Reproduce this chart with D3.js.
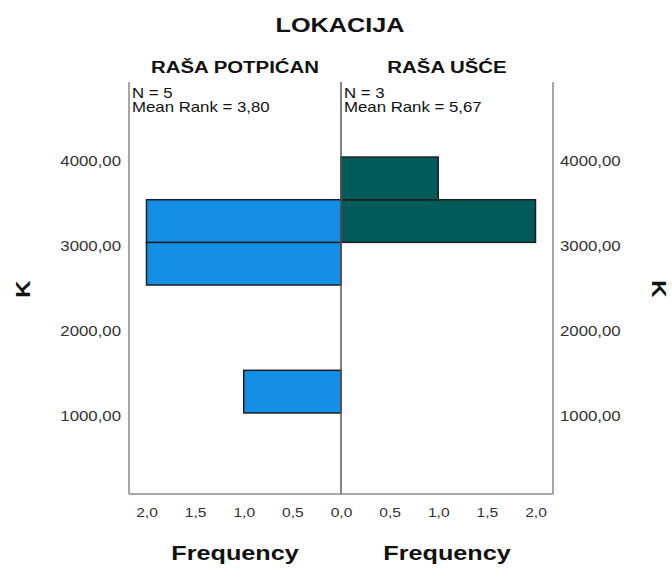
<!DOCTYPE html>
<html>
<head>
<meta charset="utf-8">
<script src="https://cdn.jsdelivr.net/npm/d3@7"></script>
<style>
  body { margin: 0; background: #fff; }
  svg { display: block; font-family: Arial, "Liberation Sans", sans-serif; }
</style>
</head>
<body>
<svg width="672" height="568"></svg>
<script>
// bins of K (lower edge), width 500
const binStart = [1000, 1500, 2000, 2500, 3000, 3500];
const binWidth = 500;
const countsLeft = [1, 0, 0, 2, 2, 0];   // RAŠA POTPIĆAN
const countsRight = [0, 0, 0, 0, 2, 1];  // RAŠA UŠĆE
const groups = ["RAŠA POTPIĆAN", "RAŠA UŠĆE"];
const groupN = [5, 3];
const meanRank = [3.80, 5.67];
const yTicks = [1000, 2000, 3000, 4000];
const xTicks = [0, 0.5, 1, 1.5, 2];

const svg = d3.select("svg");
const SX = "scale(1.2,1)";

const loc = d3.formatLocale({decimal: ",", thousands: ".", grouping: [3], currency: ["", ""]});
const fmtY = loc.format(".2f"), fmtX = loc.format(".1f");

const pLeft = 129, pMid = 341, pRight = 553, pTop = 82, pBottom = 494;

const y = d3.scaleLinear().domain([50, 4880]).range([pBottom, pTop]);
const xL = d3.scaleLinear().domain([0, 2.18]).range([pMid, pLeft]);
const xR = d3.scaleLinear().domain([0, 2.18]).range([pMid, pRight]);

// bars
const rows = binStart.map((b, i) => ({b, l: countsLeft[i], r: countsRight[i]}));

svg.append("g").selectAll("rect")
  .data(rows.filter(d => d.l > 0))
  .enter().append("rect")
    .attr("x", d => xL(d.l))
    .attr("width", d => xL(0) - xL(d.l))
    .attr("y", d => y(d.b + binWidth))
    .attr("height", d => y(d.b) - y(d.b + binWidth))
    .attr("fill", "#1390e6")
    .attr("stroke", "#1e1e1e")
    .attr("stroke-width", 1.5);

svg.append("g").selectAll("rect")
  .data(rows.filter(d => d.r > 0))
  .enter().append("rect")
    .attr("x", xR(0))
    .attr("width", d => xR(d.r) - xR(0))
    .attr("y", d => y(d.b + binWidth))
    .attr("height", d => y(d.b) - y(d.b + binWidth))
    .attr("fill", "#025b5a")
    .attr("stroke", "#1e1e1e")
    .attr("stroke-width", 1.5);

// panel frame
const frame = svg.append("g").attr("fill", "none").attr("stroke-width", 1.5);
frame.append("line").attr("x1", pLeft).attr("x2", pLeft).attr("y1", pTop).attr("y2", pBottom).attr("stroke", "#8a8a8a");
frame.append("line").attr("x1", pRight).attr("x2", pRight).attr("y1", pTop).attr("y2", pBottom).attr("stroke", "#8a8a8a");
frame.append("line").attr("x1", pMid).attr("x2", pMid).attr("y1", pTop).attr("y2", pBottom).attr("stroke", "#5a5a5a");
frame.append("line").attr("x1", pLeft).attr("x2", pRight).attr("y1", pBottom).attr("y2", pBottom).attr("stroke", "#8a8a8a");

// axes
const styleAxis = (g, tf) => {
  g.select(".domain").remove();
  g.selectAll("text")
    .attr("x", 0).attr("y", 0).attr("dy", null)
    .attr("fill", "#333")
    .attr("transform", tf + " " + SX);
};

svg.append("g").attr("transform", `translate(${pLeft},0)`)
  .call(d3.axisLeft(y).tickValues(yTicks).tickSize(0).tickFormat(fmtY))
  .call(g => styleAxis(g, "translate(-8,8)"))
  .selectAll("text").attr("font-size", 14);

svg.append("g").attr("transform", `translate(${pRight},0)`)
  .call(d3.axisRight(y).tickValues(yTicks).tickSize(0).tickFormat(fmtY))
  .call(g => styleAxis(g, "translate(7,8)"))
  .selectAll("text").attr("font-size", 14);

svg.append("g").attr("transform", `translate(0,${pBottom})`)
  .call(d3.axisBottom(xL).tickValues(xTicks).tickSize(0).tickFormat(fmtX))
  .call(g => styleAxis(g, "translate(0,23)"))
  .selectAll("text").attr("font-size", 13);

// shared 0,0 is drawn once, by the left axis
svg.append("g").attr("transform", `translate(0,${pBottom})`)
  .call(d3.axisBottom(xR).tickValues(xTicks.filter(v => v > 0)).tickSize(0).tickFormat(fmtX))
  .call(g => styleAxis(g, "translate(0,23)"))
  .selectAll("text").attr("font-size", 13);

// texts
const label = (txt, x, yy, size, weight, extra) => svg.append("text")
  .attr("transform", `translate(${x},${yy}) ${extra || ""} ${SX}`)
  .attr("text-anchor", "middle")
  .attr("font-size", size)
  .attr("font-weight", weight)
  .attr("fill", "#111")
  .text(txt);

label("LOKACIJA", 340, 32, 21, "bold");
label(groups[0], (pLeft + pMid) / 2, 73, 17, "bold");
label(groups[1], (pMid + pRight) / 2, 73, 17, "bold");
label("Frequency", (pLeft + pMid) / 2, 560, 21, "bold");
label("Frequency", (pMid + pRight) / 2, 560, 21, "bold");
label("K", 30, 289, 20, "bold", "rotate(-90)");
label("K", 652, 289, 20, "bold", "rotate(90)");

[pLeft, pMid].forEach((x0, i) => {
  const t = svg.append("g").attr("font-size", 14).attr("fill", "#111");
  t.append("text").attr("transform", `translate(${x0 + 3},98) ${SX}`).text(`N = ${groupN[i]}`);
  t.append("text").attr("transform", `translate(${x0 + 3},112) ${SX}`)
    .text(`Mean Rank = ${loc.format(".2f")(meanRank[i])}`);
});
</script>
</body>
</html>
